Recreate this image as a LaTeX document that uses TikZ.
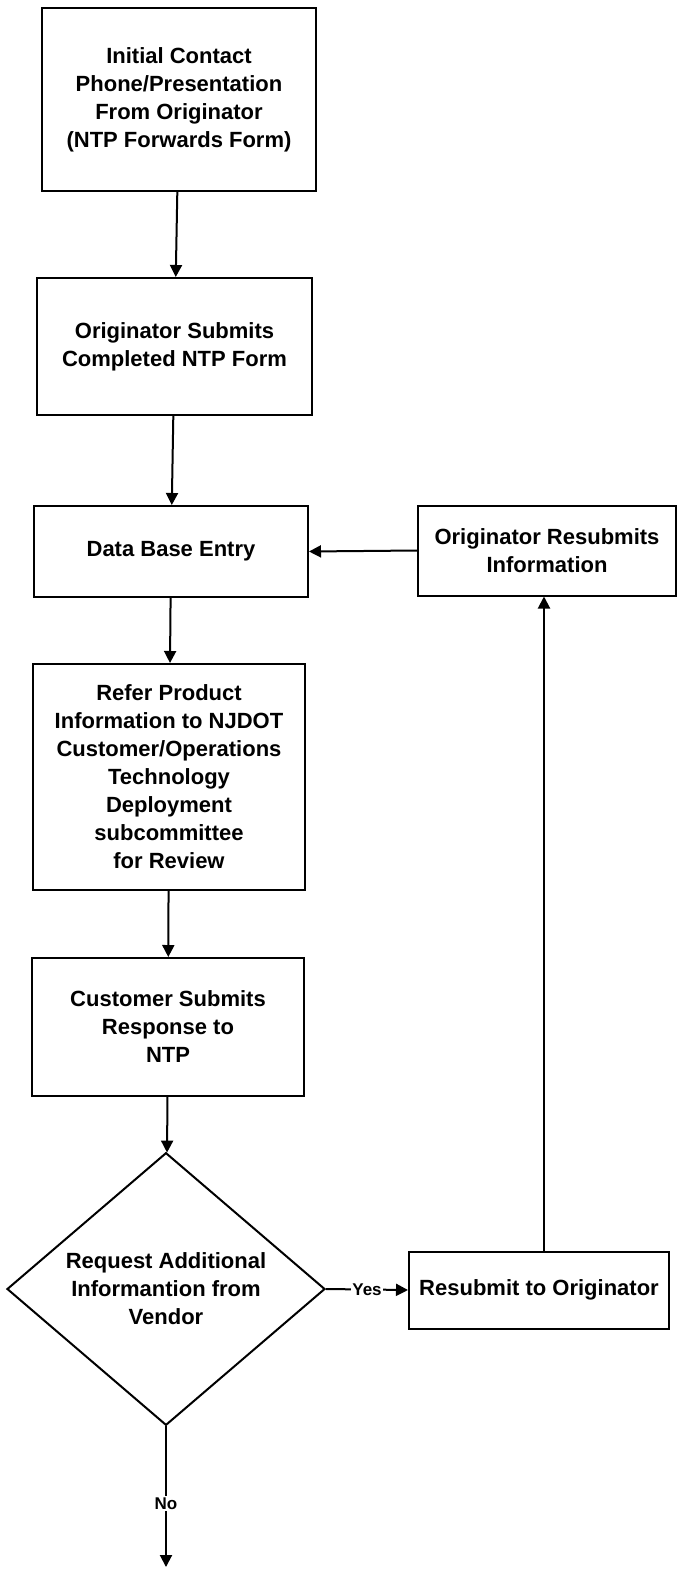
\documentclass[tikz,border=0pt]{standalone}
\usepackage{fontspec}
\setmainfont{Liberation Sans}
\usetikzlibrary{arrows.meta,shapes.geometric}

\tikzset{
	stepbox/.style={draw, line width=2pt, align=center, inner sep=2pt,
		font=\fontsize{22}{28}\selectfont\bfseries},
	decbox/.style={draw, diamond, line width=2pt, align=center, inner sep=0pt,
		font=\fontsize{22}{28}\selectfont\bfseries},
	flow/.style={line width=2pt, -{Triangle[length=12pt,width=12pt]}},
	flowlabel/.style={fill=white, inner sep=1.5pt, font=\fontsize{17}{20}\selectfont\bfseries}
}

\begin{document}
\begin{tikzpicture}[x=1pt, y=-1pt]
		\useasboundingbox (0,0) rectangle (677,1570);
		% main column
		\node[stepbox, minimum width=274pt, minimum height=183pt] (contact) at (179,99.5){Initial Contact\\ Phone/Presentation\\ From Originator\\ (NTP Forwards Form)};
		\node[stepbox, minimum width=275pt, minimum height=137pt] (form) at (174.5,346.5){Originator Submits\\ Completed NTP Form};
		\node[stepbox, minimum width=274pt, minimum height=91pt] (entry) at (171,551.5){Data Base Entry};
		\node[stepbox, minimum width=272pt, minimum height=226pt] (refer) at (169,777){Refer Product\\ Information to NJDOT\\ Customer/Operations\\ Technology\\ Deployment\\ subcommittee\\ for Review};
		\node[stepbox, minimum width=272pt, minimum height=138pt] (response) at (168,1027){Customer Submits\\ Response to\\ NTP};
		\node[decbox, minimum width=318pt, minimum height=248pt] (request) at (166,1289){Request Additional\\ Informantion from\\ Vendor};
		\coordinate (end) at (166,1567);
		% right column
		\node[stepbox, minimum width=260pt, minimum height=77pt] (resubmit) at (539,1290){Resubmit to Originator};
		\node[stepbox, minimum width=258pt, minimum height=90pt] (resubinfo) at (547,550.5){Originator Resubmits\\ Information};
		
		\draw[flow] (contact) -- (form);
		\draw[flow] (form) -- (entry);
		\draw[flow] (entry) -- (refer);
		\draw[flow] (refer) -- (response);
		\draw[flow] (response) -- (request);
		\draw[flow] (request.east) --node[midway, flowlabel]{Yes} (resubmit.west);
		\draw[flow] (resubmit.north -| 544,0) -- (resubinfo.south -| 544,0);
		\draw[flow] (resubinfo.west) -- (entry.east);
		\draw[flow] (request.south) --node[pos=0.55, flowlabel]{No} (end);
	    \end{tikzpicture}
\end{document}
